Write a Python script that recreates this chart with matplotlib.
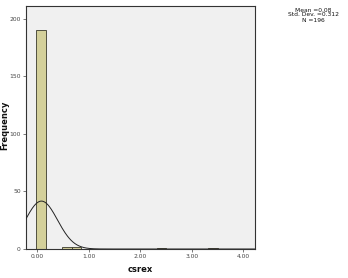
import numpy as np
import matplotlib
matplotlib.use("Agg")
import matplotlib.pyplot as plt

# Histogram bins (left edge, right edge, count)
bin_lefts = [-0.03, 0.47, 0.665, 2.32, 3.32]
bin_rights = [0.165, 0.665, 0.84, 2.51, 3.51]
counts = [190, 2, 2, 1, 1]

mean_val = 0.08
sd_val = 0.312
n_val = 196
curve_binwidth = 0.166

xticks = [0, 1, 2, 3, 4]
xticklabels = ["0.00", "1.00", "2.00", "3.00", "4.00"]
yticks = [0, 50, 100, 150, 200]

W, H = 348, 278
fig = plt.figure(figsize=(W / 100, H / 100), dpi=100)
fig.patch.set_facecolor("white")
ax = fig.add_axes([26 / W, (H - 249) / H, (255 - 26) / W, (249 - 6) / H])
ax.set_facecolor("#f0f0f0")

widths = [r - l for l, r in zip(bin_lefts, bin_rights)]
ax.bar(bin_lefts, counts, width=widths, align="edge", color="#d4d09a",
       edgecolor="#3a3a2a", linewidth=0.6, zorder=2)

xs = np.linspace(-0.3, 4.3, 500)
ys = n_val * curve_binwidth / (sd_val * np.sqrt(2 * np.pi)) * np.exp(-0.5 * ((xs - mean_val) / sd_val) ** 2)
ax.plot(xs, ys, color="#222222", linewidth=0.7, zorder=3)

ax.set_xlim(-0.22, 4.23)
ax.set_ylim(0, 211)
ax.set_xticks(xticks)
ax.set_xticklabels(xticklabels)
ax.set_yticks(yticks)
ax.tick_params(axis="both", labelsize=4.3, length=2.5, width=0.5, color="#444444",
               labelcolor="#444444", pad=1.2)
for s in ax.spines.values():
    s.set_color("#333333")
    s.set_linewidth(0.8)

fig.text(5 / W, 1 - 125 / H, "Frequency", rotation=90, fontsize=6, fontweight="bold",
         ha="center", va="center", color="#111111")
fig.text(140 / W, 1 - 270 / H, "csrex", fontsize=6, fontweight="bold",
         ha="center", va="center", color="#111111")
fig.text(313 / W, 1 - 15 / H, "Mean =%.2f\nStd. Dev. =%.3f\nN =%d" % (mean_val, sd_val, n_val),
         fontsize=4.3, ha="center", va="center", linespacing=1.0, color="#111111")

fig.savefig("out.png", dpi=100)
